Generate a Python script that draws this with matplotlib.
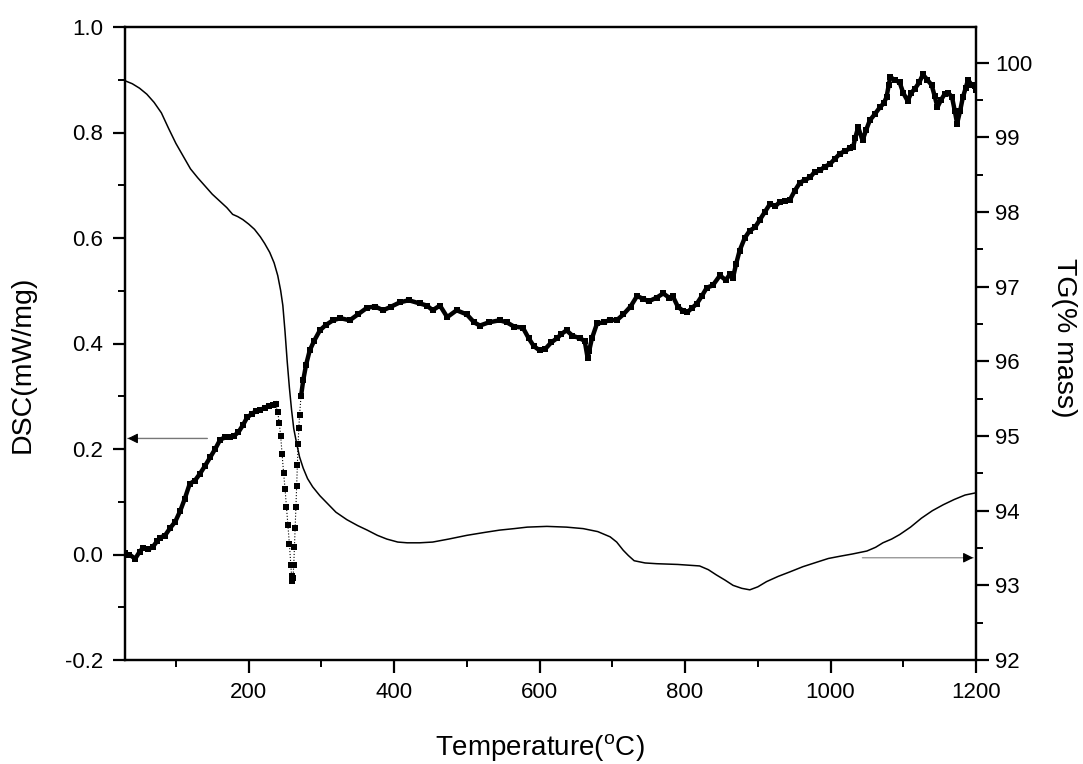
import matplotlib
matplotlib.use("Agg")
import matplotlib.pyplot as plt
from matplotlib.ticker import MultipleLocator

plt.rcParams['font.family'] = ['Liberation Sans', 'DejaVu Sans']
plt.rcParams['mathtext.fontset'] = 'custom'
plt.rcParams['mathtext.rm'] = 'Liberation Sans'

# DSC curve (left axis)
dsc_temp = [30, 36, 44, 50, 55, 62, 68, 74, 78, 85, 92, 99, 106, 112, 119, 126, 133, 140,
            147, 154, 161, 168, 175, 180, 186, 192, 198, 204, 210, 216, 222, 228, 233, 237,
            240, 242, 244, 246, 248, 250, 252, 254, 256, 258, 259, 260, 261, 262, 263, 264,
            265, 266, 267, 268, 269, 270, 272, 275, 279, 284, 290, 298, 306, 316, 326, 339,
            350, 363, 374, 385, 396, 408, 420, 435, 445, 453, 463, 473, 486, 500, 510, 518,
            530, 545, 555, 565, 577, 585, 592, 600, 608, 616, 624, 630, 637, 645, 655, 662,
            666, 668, 672, 679, 688, 697, 706, 715, 725, 734, 742, 750, 761, 770, 778, 783,
            790, 797, 803, 810, 816, 823, 830, 838, 848, 856, 862, 866, 870, 875, 882, 889,
            896, 903, 910, 917, 924, 930, 937, 944, 951, 958, 965, 972, 978, 985, 992, 999,
            1006, 1013, 1020, 1027, 1031, 1034, 1038, 1044, 1049, 1054, 1061, 1068, 1073,
            1077, 1080, 1082, 1088, 1095, 1100, 1106, 1111, 1116, 1122, 1127, 1133, 1139,
            1143, 1147, 1152, 1157, 1162, 1167, 1171, 1174, 1178, 1182, 1186, 1189, 1194,
            1198, 1200]
dsc = [0.002, 0.0, -0.008, 0.005, 0.013, 0.01, 0.014, 0.025, 0.032, 0.036, 0.05, 0.062,
       0.083, 0.105, 0.134, 0.14, 0.153, 0.168, 0.184, 0.2, 0.218, 0.222, 0.222, 0.225,
       0.232, 0.245, 0.26, 0.266, 0.272, 0.274, 0.278, 0.282, 0.284, 0.286,
       0.27, 0.25, 0.225, 0.19, 0.155, 0.125, 0.09, 0.055, 0.02, -0.02, -0.04, -0.05,
       -0.045, -0.02, 0.015, 0.05, 0.09, 0.13, 0.17, 0.21, 0.24, 0.265, 0.3, 0.33, 0.36,
       0.387, 0.405, 0.425, 0.435, 0.444, 0.448, 0.444, 0.455, 0.468, 0.47, 0.463, 0.47,
       0.478, 0.482, 0.476, 0.472, 0.463, 0.472, 0.45, 0.463, 0.455, 0.44, 0.434, 0.44,
       0.444, 0.44, 0.432, 0.43, 0.41, 0.395, 0.387, 0.39, 0.402, 0.41, 0.418, 0.425,
       0.415, 0.41, 0.405, 0.373, 0.385, 0.41, 0.438, 0.44, 0.445, 0.444, 0.455, 0.47,
       0.49, 0.485, 0.48, 0.487, 0.495, 0.487, 0.49, 0.47, 0.462, 0.459, 0.468, 0.475,
       0.49, 0.506, 0.51, 0.529, 0.52, 0.532, 0.525, 0.55, 0.576, 0.6, 0.614, 0.62, 0.635,
       0.65, 0.665, 0.66, 0.668, 0.67, 0.672, 0.69, 0.705, 0.71, 0.715, 0.725, 0.728,
       0.735, 0.74, 0.75, 0.76, 0.765, 0.77, 0.772, 0.79, 0.81, 0.785, 0.805, 0.823,
       0.835, 0.848, 0.855, 0.867, 0.89, 0.905, 0.9, 0.895, 0.875, 0.86, 0.875, 0.883,
       0.895, 0.91, 0.9, 0.89, 0.87, 0.848, 0.862, 0.873, 0.875, 0.867, 0.84, 0.817,
       0.84, 0.867, 0.885, 0.9, 0.89, 0.889, 0.88]

# TG curve (right axis)
tg_temp = [30, 40, 50, 60, 70, 80, 90, 100, 110, 120, 130, 140, 150, 160, 170, 178, 185,
           192, 200, 208, 216, 222, 229, 235, 240, 244, 247, 250, 253, 256, 259, 262, 266,
           270, 275, 281, 288, 298, 308, 320, 335, 350, 363, 377, 390, 405, 418, 435, 453,
           475, 500, 525, 545, 565, 583, 610, 637, 660, 680, 697, 706, 715, 722, 730, 745,
           761, 790, 820, 832, 843, 855, 866, 878, 889, 900, 912, 928, 944, 962, 981, 997,
           1013, 1030, 1050, 1062, 1072, 1084, 1095, 1110, 1125, 1140, 1155, 1170, 1185, 1200]
tg = [99.76, 99.72, 99.66, 99.58, 99.47, 99.33, 99.12, 98.92, 98.75, 98.58, 98.46, 98.35,
      98.24, 98.15, 98.06, 97.97, 97.94, 97.9, 97.84, 97.77, 97.67, 97.58, 97.46, 97.32,
      97.15, 96.95, 96.75, 96.4, 96.0, 95.65, 95.35, 95.1, 94.9, 94.72, 94.57, 94.43,
      94.32, 94.2, 94.1, 93.98, 93.88, 93.8, 93.74, 93.67, 93.62, 93.58, 93.57, 93.57,
      93.58, 93.62, 93.67, 93.71, 93.74, 93.76, 93.78, 93.79, 93.78, 93.76, 93.72, 93.65,
      93.58, 93.47, 93.4, 93.33, 93.3, 93.29, 93.28, 93.26, 93.21, 93.14, 93.07, 93.0,
      92.96, 92.94, 92.98, 93.05, 93.12, 93.18, 93.25, 93.31, 93.36, 93.39, 93.42, 93.46,
      93.51, 93.57, 93.62, 93.68, 93.78, 93.9, 94.0, 94.08, 94.15, 94.21, 94.24]

W, H = 1083, 764
fig = plt.figure(figsize=(W / 100, H / 100), dpi=100)
ax = fig.add_axes([125 / W, 1 - 660 / H, 851 / W, 633 / H])
ax2 = ax.twinx()

# squares joined by a thin dotted line; thick band outside the sharp dip
ax.plot(dsc_temp, dsc, color='black', lw=0.8, ls=':', marker='s', ms=4, mew=0)
i0, i1 = dsc_temp.index(237), dsc_temp.index(272)
ax.plot(dsc_temp[:i0 + 1], dsc[:i0 + 1], color='black', lw=3.2)
ax.plot(dsc_temp[i1:], dsc[i1:], color='black', lw=3.2)
ax2.plot(tg_temp, tg, color='black', lw=1.1)

ax.set_xlim(30, 1200)
ax.set_ylim(-0.2, 1.0)
ax2.set_ylim(92, 100.48)

ax.xaxis.set_major_locator(MultipleLocator(200))
ax.xaxis.set_minor_locator(MultipleLocator(100))
ax.yaxis.set_minor_locator(MultipleLocator(0.1))
ax2.yaxis.set_minor_locator(MultipleLocator(0.5))
ax.set_yticks([-0.2, 0.0, 0.2, 0.4, 0.6, 0.8, 1.0])
ax.set_yticklabels(['-0.2', '0.0', '0.2', '0.4', '0.6', '0.8', '1.0'])
ax2.set_yticks(range(92, 101))

for a in (ax, ax2):
    for s in a.spines.values():
        s.set_linewidth(1.6)
ax.tick_params(axis='x', which='major', direction='out', length=9, width=1.6,
               labelsize=16, pad=7, top=False)
ax.tick_params(axis='y', which='major', direction='out', length=9, width=1.6,
               labelsize=16, pad=7)
ax.tick_params(which='minor', direction='out', length=5, width=1.4, top=False)
ax2.tick_params(which='major', direction='out', length=9, width=1.6, labelsize=16, pad=5)
ax2.tick_params(which='minor', direction='out', length=5, width=1.4)

fig.text(540 / W, 1 - 756 / H, r'Temperature($^{\mathrm{o}}$C)', fontsize=20,
         ha='center', va='baseline')
fig.text(23 / W, 1 - 364 / H, 'DSC(mW/mg)', fontsize=20.5, rotation=90,
         ha='center', va='center')
fig.text(1064 / W, 1 - 338 / H, 'TG(% mass)', fontsize=20.5, rotation=270,
         ha='center', va='center')

# arrows pointing to the axis of each curve: grey shaft, black head
ax.annotate('', xy=(30, 0.22), xytext=(147, 0.22),
            arrowprops=dict(arrowstyle='-', color='#777777', lw=1.0))
ax.annotate('', xy=(30, 0.22), xytext=(48, 0.22),
            arrowprops=dict(arrowstyle='-|>', color='black', lw=0.8, mutation_scale=15))
ax2.annotate('', xy=(1200, 93.37), xytext=(1040, 93.37),
             arrowprops=dict(arrowstyle='-', color='#999999', lw=1.0))
ax2.annotate('', xy=(1200, 93.37), xytext=(1179, 93.37),
             arrowprops=dict(arrowstyle='-|>', color='black', lw=0.8, mutation_scale=15))

fig.savefig('out.png', dpi=100)
